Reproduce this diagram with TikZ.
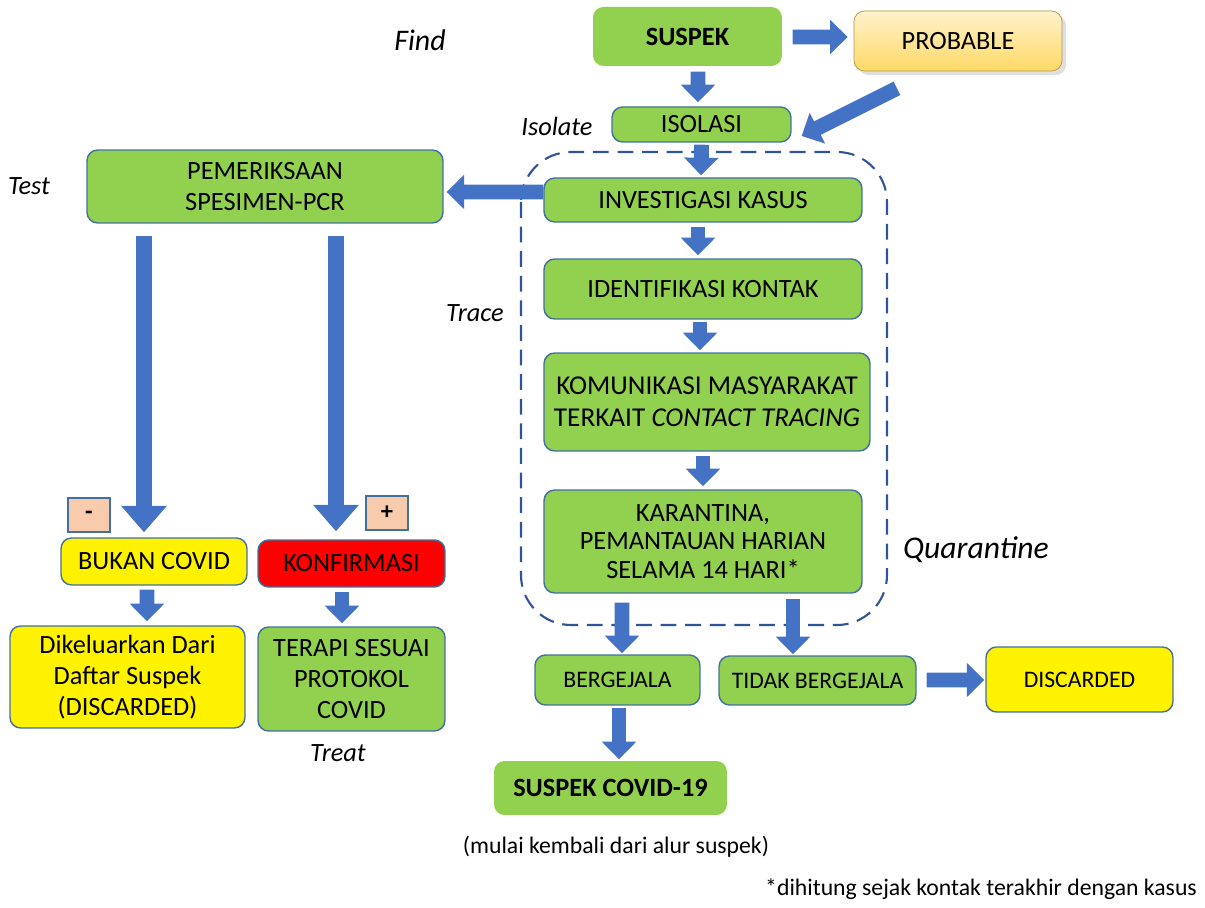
\documentclass[tikz,border=0pt]{standalone}
\usepackage{fontspec}
\setmainfont{Carlito}
\usetikzlibrary{arrows.meta,calc,positioning,shadows}
\definecolor{boxgreen}{HTML}{92D050}
\definecolor{boxline}{HTML}{41719C}
\definecolor{arrowblue}{HTML}{4472C4}
\definecolor{framebl}{HTML}{2F5597}
\definecolor{peach}{HTML}{F8CBAD}
\definecolor{probtop}{HTML}{FFF2CC}
\definecolor{probbot}{HTML}{FFD966}
\tikzset{
    box/.style={
        rectangle,
        rounded corners=6pt,
        draw=boxline, thick,
        fill=boxgreen,
        align=center,
        inner sep=1pt,
        font={\fontsize{15}{17.8}\selectfont}
    },
    smallbox/.style={box, font={\fontsize{13.5}{16}\selectfont}},
    yellowbox/.style={box, fill=yellow},
    redbox/.style={box, fill=red},
    signbox/.style={
        rectangle,
        draw=boxline, thick,
        fill=peach,
        minimum width=0.84cm,
        minimum height=0.68cm,
        font={\fontsize{14}{17}\selectfont\bfseries}
    },
    stage/.style={font={\fontsize{15}{18}\selectfont\itshape}},
    blk/.style={draw=arrowblue, line width=8.5pt,
        -{Triangle[length=10pt,width=19pt]}},
    blklong/.style={draw=arrowblue, line width=9pt,
        -{Triangle[length=15pt,width=25pt]}},
    frame/.style={draw=framebl, line width=1.2pt,
        dash pattern=on 9pt off 5pt, rounded corners=1cm},
}

\begin{document}
\begin{tikzpicture}[x=0.02cm, y=-0.02cm]
\useasboundingbox (0,0) rectangle (1205,908);

% tracing frame
\draw [frame] (521,152) rectangle (887,625);

% right column
\node [box, draw=none, minimum width=3.78cm, minimum height=1.18cm] (suspek) at (687.5,36.5) {\textbf{SUSPEK}};
\node [box, draw=probbot!70!black, thin, top color=probtop, bottom color=probbot, drop shadow={opacity=0.25},
    minimum width=4.16cm, minimum height=1.2cm] (probable) at (958,41) {PROBABLE};
\node [box, minimum width=3.58cm, minimum height=0.7cm] (isolasi) at (701.5,124.5) {ISOLASI};
\node [box, minimum width=6.36cm, minimum height=0.88cm] (investigasi) at (703,200) {INVESTIGASI KASUS};
\node [box, minimum width=6.36cm, minimum height=1.2cm] (identifikasi) at (703,289) {IDENTIFIKASI KONTAK};
\node [box, minimum width=6.52cm, minimum height=1.96cm, font={\fontsize{15.5}{18}\selectfont}] (komunikasi) at (707,402)
    {KOMUNIKASI MASYARAKAT\\TERKAIT \textit{CONTACT TRACING}};
\node [box, minimum width=6.36cm, minimum height=2.06cm, font={\fontsize{15}{16.2}\selectfont}] (karantina) at (703,541.5)
    {KARANTINA,\\PEMANTAUAN HARIAN\\SELAMA 14 HARI*};
\node [smallbox, minimum width=3.3cm, minimum height=1cm] (bergejala) at (617.5,680) {BERGEJALA};
\node [smallbox, minimum width=3.94cm, minimum height=0.98cm] (tidak) at (817.5,680.5) {TIDAK BERGEJALA};
\node [smallbox, fill=yellow, minimum width=3.74cm, minimum height=1.3cm] (discarded) at (1079.5,679.5) {DISCARDED};
\node [box, draw=none, minimum width=4.66cm, minimum height=1.08cm] (suspekcovid) at (610.5,788) {\textbf{SUSPEK COVID-19}};

% left column
\node [box, minimum width=7.12cm, minimum height=1.46cm] (pcr) at (265,186.5) {PEMERIKSAAN\\SPESIMEN-PCR};
\node [signbox] (minus) at (89,515) {-};
\node [signbox] (plus) at (387,513) {+};
\node [yellowbox, minimum width=3.72cm, minimum height=0.94cm] (bukan) at (154,561.5) {BUKAN COVID};
\node [redbox, minimum width=3.74cm, minimum height=0.94cm] (konfirmasi) at (351.5,563.5) {KONFIRMASI};
\node [yellowbox, minimum width=4.7cm, minimum height=2.04cm] (dikeluarkan) at (127.5,677)
    {Dikeluarkan Dari\\Daftar Suspek\\(DISCARDED)};
\node [box, minimum width=3.74cm, minimum height=2.08cm] (terapi) at (351.5,679)
    {TERAPI SESUAI\\PROTOKOL\\COVID};

% stage labels
\node [stage, font={\fontsize{17}{20}\selectfont\itshape}] (find) at (420,40) {Find};
\node [stage] (isolate) at (557,126) {Isolate};
\node [stage] (test) at (29,186) {Test};
\node [stage] (trace) at (475,313) {Trace};
\node [stage, font={\fontsize{18}{21}\selectfont\itshape}] (quarantine) at (976,550) {Quarantine};
\node [stage] (treat) at (338,753) {Treat};
\node [font={\fontsize{13.5}{16}\selectfont}] (mulai) at (616,847) {(mulai kembali dari alur suspek)};
\node [font={\fontsize{13.5}{16}\selectfont}] (catatan) at (981,889) {*dihitung sejak kontak terakhir dengan kasus};

% arrows
\draw [blk] ($(suspek.east)+(10,0.5)$) -- ($(probable.west)+(-6,-4)$);
\draw [blk] ($(suspek.south)+(10.5,5)$) -- ($(isolasi.north)+(-3.5,-4)$);
\draw [blk] ($(probable.south)+(-61,17)$) -- ($(isolasi.east)+(10,11.5)$);
\draw [blk] ($(isolasi.south)+(0,2)$) -- ($(investigasi.north)+(-2,-2)$);
\draw [blk] ($(investigasi.west)+(0,-8)$) -- ($(pcr.east)+(3,5.5)$);
\draw [blk] ($(investigasi.south)+(-5,4)$) -- ($(identifikasi.north)+(-5,-3)$);
\draw [blk] ($(identifikasi.south)+(-3,2)$) -- ($(komunikasi.north)+(-7,-2)$);
\draw [blk] ($(komunikasi.south)+(-4,4)$) -- ($(karantina.north)+(0,-3)$);
\draw [blk] ($(karantina.south)+(-81,9)$) -- ($(bergejala.north)+(4.5,-1)$);
\draw [blk] ($(karantina.south)+(90,5)$) -- ($(tidak.north)+(-24.5,-1)$);
\draw [blk] ($(tidak.east)+(10,-0.5)$) -- ($(discarded.west)+(-1,0.5)$);
\draw [blk] ($(bergejala.south)+(1.5,2)$) -- ($(suspekcovid.north)+(8.5,-1)$);
\draw [blklong] ($(pcr.south)+(-121,12)$) -- ($(bukan.north)+(-10,-5)$);
\draw [blklong] ($(pcr.south)+(71,12)$) -- ($(konfirmasi.north)+(-15.5,-8)$);
\draw [blk] ($(bukan.south)+(-7,4)$) -- ($(dikeluarkan.north)+(19.5,-4)$);
\draw [blk] ($(konfirmasi.south)+(-9.5,4)$) -- ($(terapi.north)+(-9.5,-3)$);

\end{tikzpicture}
\end{document}
